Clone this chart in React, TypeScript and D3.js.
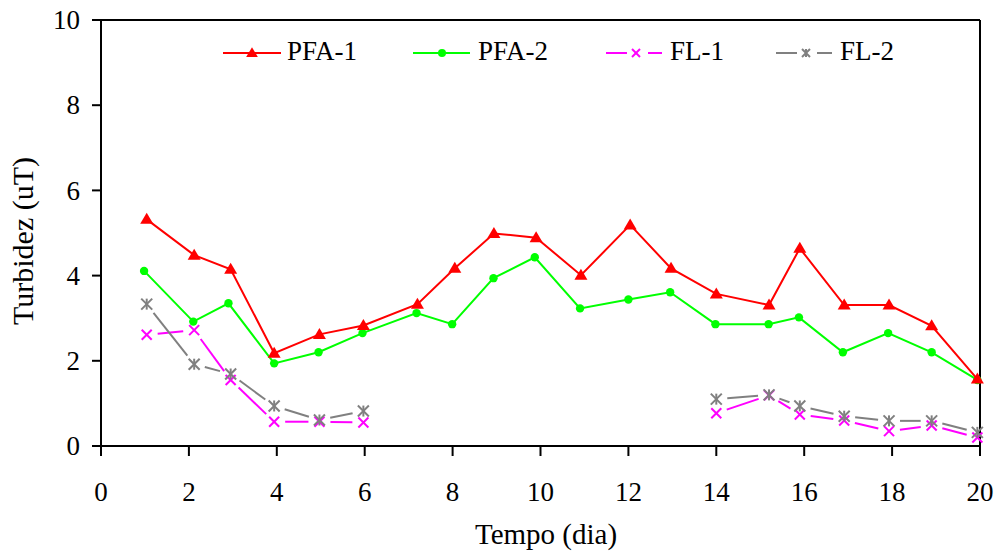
import React from 'react';
import * as d3 from 'd3';

// ---- data ----
const pfa1Days = [1.04, 2.12, 2.95, 3.94, 4.97, 5.97, 7.2, 8.05, 8.94, 9.9, 10.92, 12.04, 12.97, 14.0, 15.2, 15.9, 16.91, 17.93, 18.9, 19.94];
const pfa1Vals = [5.32, 4.48, 4.15, 2.18, 2.62, 2.83, 3.33, 4.17, 4.99, 4.89, 4.01, 5.19, 4.17, 3.57, 3.31, 4.64, 3.31, 3.31, 2.82, 1.57];

const pfa2Days = [0.98, 2.1, 2.9, 3.94, 4.95, 5.95, 7.18, 7.99, 8.93, 9.87, 10.9, 12.0, 12.95, 13.98, 15.19, 15.88, 16.88, 17.91, 18.9, 19.94];
const pfa2Vals = [4.11, 2.92, 3.35, 1.94, 2.2, 2.65, 3.12, 2.86, 3.94, 4.43, 3.23, 3.44, 3.61, 2.86, 2.86, 3.02, 2.2, 2.65, 2.2, 1.55];

const flDaysA = [1.04, 2.12, 2.95, 3.94, 4.97, 5.97];
const flDaysB = [14.0, 15.2, 15.9, 16.91, 17.93, 18.9, 19.94];

const fl1ValsA = [2.61, 2.72, 1.55, 0.57, 0.57, 0.55];
const fl1ValsB = [0.77, 1.19, 0.74, 0.6, 0.35, 0.48, 0.2];

const fl2ValsA = [3.33, 1.92, 1.69, 0.94, 0.61, 0.82];
const fl2ValsB = [1.1, 1.2, 0.94, 0.7, 0.59, 0.59, 0.32];

const xTickVals = [0, 2, 4, 6, 8, 10, 12, 14, 16, 18, 20];
const yTickVals = [0, 2, 4, 6, 8, 10];

const seriesNames = ['PFA-1', 'PFA-2', 'FL-1', 'FL-2'];
const seriesColors = ['#FF0000', '#00FF00', '#FF00FF', '#808080'];

const FONT = '"Liberation Serif", "Times New Roman", serif';

type Pt = [number, number];

function zip(a: number[], b: number[]): Pt[] {
  return a.map((v, i) => [v, b[i]] as Pt);
}

function Triangle({ cx, cy, color, s = 1 }: { cx: number; cy: number; color: string; s?: number }) {
  const p = [[cx, cy - 6.5 * s], [cx - 6.5 * s, cy + 4.5 * s], [cx + 6.5 * s, cy + 4.5 * s]];
  return <polygon points={p.map((q) => q.join(',')).join(' ')} fill={color} />;
}
function Dot({ cx, cy, color, r = 4.2 }: { cx: number; cy: number; color: string; r?: number }) {
  return <circle cx={cx} cy={cy} r={r} fill={color} />;
}
function XMark({ cx, cy, color, h = 5 }: { cx: number; cy: number; color: string; h?: number }) {
  return (
    <g stroke={color} strokeWidth={2}>
      <line x1={cx - h} y1={cy - h} x2={cx + h} y2={cy + h} />
      <line x1={cx - h} y1={cy + h} x2={cx + h} y2={cy - h} />
    </g>
  );
}
function Star({ cx, cy, color, h = 5.5 }: { cx: number; cy: number; color: string; h?: number }) {
  return (
    <g stroke={color} strokeWidth={2}>
      <line x1={cx - h} y1={cy - h} x2={cx + h} y2={cy + h} />
      <line x1={cx - h} y1={cy + h} x2={cx + h} y2={cy - h} />
      <line x1={cx} y1={cy - h} x2={cx} y2={cy + h} />
    </g>
  );
}

export default function App() {
  const x = d3.scaleLinear().domain([0, 20]).range([101, 980]);
  const y = d3.scaleLinear().domain([0, 10]).range([446, 20]);
  const line = d3.line<Pt>().x((d) => x(d[0])).y((d) => y(d[1]));

  const pfa1 = zip(pfa1Days, pfa1Vals);
  const pfa2 = zip(pfa2Days, pfa2Vals);
  const fl1Parts = [zip(flDaysA, fl1ValsA), zip(flDaysB, fl1ValsB)];
  const fl2Parts = [zip(flDaysA, fl2ValsA), zip(flDaysB, fl2ValsB)];

  // gapped (dashed-look) segments between markers
  const gapSegs = (pts: Pt[], color: string, key: string) => {
    const out: JSX.Element[] = [];
    const g = 11;
    for (let i = 0; i < pts.length - 1; i++) {
      const x1 = x(pts[i][0]), y1 = y(pts[i][1]);
      const x2 = x(pts[i + 1][0]), y2 = y(pts[i + 1][1]);
      const L = Math.hypot(x2 - x1, y2 - y1);
      if (L <= 2 * g) continue;
      const ux = (x2 - x1) / L, uy = (y2 - y1) / L;
      out.push(
        <line key={key + i} x1={x1 + ux * g} y1={y1 + uy * g} x2={x2 - ux * g} y2={y2 - uy * g}
          stroke={color} strokeWidth={2} />
      );
    }
    return out;
  };

  const legendY = 53;
  const legendTextY = 59.5;

  return (
    <svg width={999} height={553} style={{ position: 'absolute', left: 0, top: 0, background: '#fff' }}
      fontFamily={FONT}>
      <rect x={0} y={0} width={999} height={553} fill="#fff" />

      {/* frame */}
      <line x1={x(0)} y1={y(10)} x2={x(20)} y2={y(10)} stroke="#000" strokeWidth={2} />
      <line x1={x(20)} y1={y(10)} x2={x(20)} y2={y(0)} stroke="#000" strokeWidth={2} />
      <line x1={x(0)} y1={y(0)} x2={x(20)} y2={y(0)} stroke="#000" strokeWidth={2} />
      <line x1={x(0)} y1={y(10)} x2={x(0)} y2={y(0)} stroke="#000" strokeWidth={2} />

      {/* y ticks */}
      {yTickVals.map((t) => (
        <g key={'y' + t}>
          <line x1={x(0) - 9} x2={x(0)} y1={y(t)} y2={y(t)} stroke="#000" strokeWidth={2} />
          <text x={80} y={y(t)} dy="0.34em" textAnchor="end" fontSize={27} fill="#000">{t}</text>
        </g>
      ))}
      {/* x ticks */}
      {xTickVals.map((t) => (
        <g key={'x' + t}>
          <line x1={x(t)} x2={x(t)} y1={y(0)} y2={y(0) + 10} stroke="#000" strokeWidth={2} />
          <text x={x(t)} y={501} textAnchor="middle" fontSize={27} fill="#000">{t}</text>
        </g>
      ))}

      {/* axis titles */}
      <text x={546} y={544} textAnchor="middle" fontSize={29} fill="#000">Tempo (dia)</text>
      <text transform={`translate(33,${241}) rotate(-90)`} textAnchor="middle" fontSize={30} fill="#000">Turbidez (uT)</text>

      {/* FL-1 and FL-2 */}
      {fl1Parts.map((p, k) => gapSegs(p, seriesColors[2], 'f1' + k))}
      {fl2Parts.map((p, k) => gapSegs(p, seriesColors[3], 'f2' + k))}
      {fl1Parts.flat().map((d, i) => <XMark key={'m1' + i} cx={x(d[0])} cy={y(d[1])} color={seriesColors[2]} />)}
      {fl2Parts.flat().map((d, i) => <Star key={'m2' + i} cx={x(d[0])} cy={y(d[1])} color={seriesColors[3]} />)}

      {/* PFA-2 */}
      <path d={line(pfa2) || ''} fill="none" stroke={seriesColors[1]} strokeWidth={2} />
      {pfa2.map((d, i) => <Dot key={'p2' + i} cx={x(d[0])} cy={y(d[1])} color={seriesColors[1]} />)}

      {/* PFA-1 */}
      <path d={line(pfa1) || ''} fill="none" stroke={seriesColors[0]} strokeWidth={2} />
      {pfa1.map((d, i) => <Triangle key={'p1' + i} cx={x(d[0])} cy={y(d[1])} color={seriesColors[0]} />)}

      {/* legend */}
      <g>
        <line x1={223} x2={281} y1={legendY} y2={legendY} stroke={seriesColors[0]} strokeWidth={2} />
        <Triangle cx={252} cy={legendY} color={seriesColors[0]} s={0.9} />
        <text x={287} y={legendTextY} fontSize={27} fill="#000">{seriesNames[0]}</text>

        <line x1={413} x2={470} y1={legendY} y2={legendY} stroke={seriesColors[1]} strokeWidth={2} />
        <Dot cx={442} cy={legendY} color={seriesColors[1]} r={4} />
        <text x={478} y={legendTextY} fontSize={27} fill="#000">{seriesNames[1]}</text>

        <line x1={606} x2={627} y1={legendY} y2={legendY} stroke={seriesColors[2]} strokeWidth={2} />
        <line x1={648} x2={662} y1={legendY} y2={legendY} stroke={seriesColors[2]} strokeWidth={2} />
        <XMark cx={636} cy={legendY} color={seriesColors[2]} h={4} />
        <text x={670} y={legendTextY} fontSize={27} fill="#000">{seriesNames[2]}</text>

        <line x1={776} x2={797} y1={legendY} y2={legendY} stroke={seriesColors[3]} strokeWidth={2} />
        <line x1={817} x2={832} y1={legendY} y2={legendY} stroke={seriesColors[3]} strokeWidth={2} />
        <Star cx={806} cy={legendY} color={seriesColors[3]} h={4} />
        <text x={840} y={legendTextY} fontSize={27} fill="#000">{seriesNames[3]}</text>
      </g>
    </svg>
  );
}
